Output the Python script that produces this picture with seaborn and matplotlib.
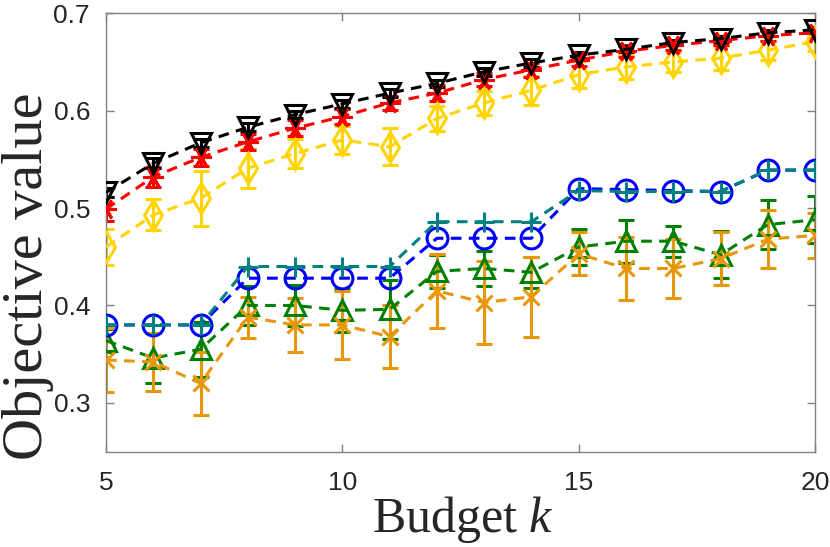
import numpy as np
import pandas as pd
import matplotlib
matplotlib.use("Agg")
import matplotlib.pyplot as plt
import seaborn as sns

budget = [5, 6, 7, 8, 9, 10, 11, 12, 13, 14, 15, 16, 17, 18, 19, 20]

black_mean = [0.516, 0.546, 0.567, 0.583, 0.596, 0.607, 0.618, 0.628, 0.640, 0.649, 0.657, 0.663, 0.670, 0.674, 0.680, 0.683]
black_err = [0.005, 0.005, 0.004, 0.004, 0.004, 0.004, 0.004, 0.004, 0.004, 0.004, 0.003, 0.003, 0.003, 0.003, 0.003, 0.003]

red_mean = [0.499, 0.532, 0.552, 0.568, 0.582, 0.594, 0.608, 0.618, 0.632, 0.642, 0.652, 0.661, 0.667, 0.672, 0.677, 0.680]
red_err = [0.012, 0.010, 0.009, 0.008, 0.008, 0.008, 0.007, 0.008, 0.007, 0.007, 0.006, 0.006, 0.005, 0.005, 0.005, 0.005]

yellow_mean = [0.460, 0.493, 0.510, 0.541, 0.556, 0.570, 0.563, 0.592, 0.608, 0.621, 0.637, 0.645, 0.650, 0.654, 0.662, 0.671]
yellow_err = [0.018, 0.016, 0.028, 0.020, 0.015, 0.014, 0.019, 0.013, 0.012, 0.015, 0.014, 0.012, 0.010, 0.012, 0.010, 0.010]

blue_mean = [0.380, 0.380, 0.380, 0.428, 0.428, 0.428, 0.428, 0.469, 0.469, 0.469, 0.520, 0.519, 0.518, 0.517, 0.539, 0.539]
teal_mean = [0.380, 0.380, 0.380, 0.440, 0.440, 0.440, 0.440, 0.486, 0.486, 0.486, 0.518, 0.517, 0.517, 0.517, 0.539, 0.539]

green_mean = [0.364, 0.346, 0.355, 0.400, 0.400, 0.395, 0.396, 0.435, 0.438, 0.434, 0.460, 0.466, 0.466, 0.452, 0.483, 0.488]
green_err = [0.012, 0.026, 0.028, 0.020, 0.021, 0.022, 0.030, 0.017, 0.018, 0.016, 0.018, 0.022, 0.016, 0.024, 0.025, 0.024]

orange_mean = [0.344, 0.342, 0.320, 0.388, 0.380, 0.380, 0.368, 0.415, 0.403, 0.409, 0.453, 0.438, 0.438, 0.448, 0.468, 0.472]
orange_err = [0.033, 0.030, 0.032, 0.021, 0.028, 0.035, 0.032, 0.038, 0.043, 0.041, 0.022, 0.032, 0.030, 0.027, 0.030, 0.023]

x_ticks = [5, 10, 15, 20]
y_ticks = [0.3, 0.4, 0.5, 0.6, 0.7]

sns.set_style("ticks")
plt.rcParams['font.family'] = ['Liberation Sans', 'DejaVu Sans']
plt.rcParams['mathtext.fontset'] = 'custom'
plt.rcParams['mathtext.it'] = 'Liberation Serif:italic'
plt.rcParams['mathtext.rm'] = 'Liberation Serif'

fig = plt.figure(figsize=(8.30, 5.47), dpi=100)
ax = fig.add_axes([0.1277, 0.1745, 0.8543, 0.8012])

asterisk = (6, 2, 90)
series = [
    ("green", green_mean, green_err, "#008000", "^", 15),
    ("orange", orange_mean, orange_err, "#E8960A", "x", 12),
    ("blue", blue_mean, None, "#0000FF", "o", 15),
    ("teal", teal_mean, None, "#008080", "+", 15),
    ("yellow", yellow_mean, yellow_err, "#FFD400", "d", 15),
    ("red", red_mean, red_err, "#FF0000", asterisk, 15),
    ("black", black_mean, black_err, "#000000", "v", 14),
]

for name, mean, err, color, marker, ms in series:
    df = pd.DataFrame({"k": budget, "v": mean})
    if err is not None:
        ax.errorbar(budget, mean, yerr=err, fmt="none", ecolor=color,
                    elinewidth=2.2, capsize=6, capthick=2.2, zorder=2)
    sns.lineplot(data=df, x="k", y="v", ax=ax, color=color, linestyle=(0, (3.5, 2.4)),
                 linewidth=2.2, marker=marker, markersize=ms,
                 markerfacecolor="none", markeredgecolor=color, markeredgewidth=2.2,
                 errorbar=None, zorder=3)

ax.set_xlim(5, 20)
ax.set_ylim(0.25, 0.7)
ax.set_xticks(x_ticks)
ax.set_xticklabels([str(t) for t in x_ticks])
ax.set_yticks(y_ticks)
ax.set_yticklabels([f"{t:.1f}" for t in y_ticks])

for sp in ax.spines.values():
    sp.set_visible(True)
    sp.set_color("#808080")
    sp.set_linewidth(1.0)
ax.tick_params(direction="in", length=6, width=1.0, color="#808080",
               top=True, right=True, labelsize=19, labelcolor="#262626")
ax.tick_params(axis="x", pad=14)
ax.tick_params(axis="y", pad=11.5)

ax.set_xlabel("Budget $\\mathit{k}$", fontsize=36, family=["Liberation Serif"],
              color="#262626")
ax.set_ylabel("Objective value", fontsize=42, family=["Liberation Serif"],
              color="#262626")
ax.xaxis.set_label_coords(0.5035, -0.097)
ax.yaxis.set_label_coords(-0.074, 0.401)

fig.savefig("out.png", dpi=100)
